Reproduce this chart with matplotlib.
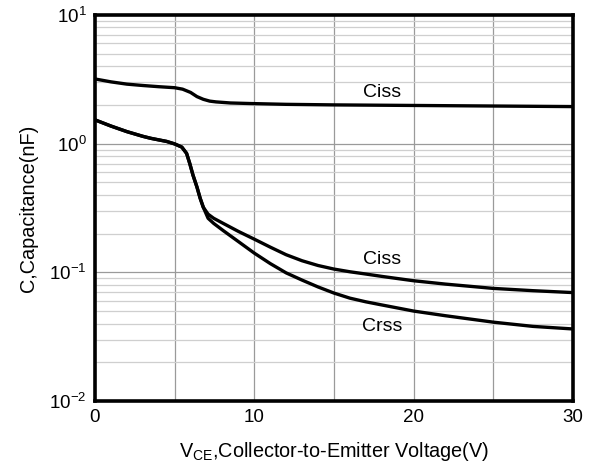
import matplotlib
matplotlib.use('Agg')
import matplotlib.pyplot as plt
from matplotlib.ticker import LogLocator, FixedLocator, NullFormatter

plt.rcParams['font.family'] = ['Liberation Sans', 'DejaVu Sans']
plt.rcParams['mathtext.fontset'] = 'custom'
plt.rcParams['mathtext.rm'] = 'Liberation Sans'
plt.rcParams['mathtext.it'] = 'Liberation Sans'

# Capacitance vs. collector-emitter voltage (nF)
vce_top = [0, 0.5, 1, 2, 3, 4, 5, 5.5, 6.0, 6.4, 6.8, 7.2, 7.6, 8.5, 9.7, 12, 15, 20, 25, 30]
ciss_top = [3.18, 3.1, 3.02, 2.9, 2.83, 2.77, 2.72, 2.65, 2.50, 2.32, 2.21, 2.14, 2.11,
            2.07, 2.05, 2.02, 2.0, 1.98, 1.96, 1.94]

vce_mid = [0, 1, 2, 3, 3.5, 4.5, 5.0, 5.45, 5.75, 5.95, 6.15, 6.4, 6.6, 6.8, 7.1, 7.45,
           8.05, 9, 10, 11, 12, 13, 14, 15, 16, 17, 18, 20, 22, 25, 27.5, 30]
ciss_mid = [1.53, 1.37, 1.24, 1.14, 1.10, 1.04, 0.995, 0.94, 0.84, 0.70, 0.57, 0.46, 0.377,
            0.32, 0.283, 0.263, 0.24, 0.208, 0.181, 0.157, 0.137, 0.123, 0.113, 0.106,
            0.101, 0.097, 0.093, 0.086, 0.081, 0.075, 0.072, 0.0696]

vce_low = [0, 1, 2, 3, 3.5, 4.5, 5.0, 5.45, 5.75, 5.95, 6.15, 6.4, 6.6, 6.8, 7.1, 7.45,
           8.05, 8.9, 10, 11, 12, 13, 14, 15, 16, 17, 18, 20, 22, 25, 27.5, 30]
crss = [1.53, 1.37, 1.24, 1.14, 1.10, 1.04, 0.995, 0.94, 0.84, 0.70, 0.57, 0.46, 0.377,
        0.32, 0.263, 0.24, 0.211, 0.177, 0.141, 0.117, 0.099, 0.087, 0.077, 0.069,
        0.063, 0.059, 0.0558, 0.050, 0.046, 0.041, 0.038, 0.0363]

labels = ['Ciss', 'Ciss', 'Crss']
label_x = [18, 18, 18]
label_y = [2.48, 0.125, 0.038]

fig = plt.figure(figsize=(5.9, 4.67), dpi=100)
ax = fig.add_axes([0.161, 0.1413, 0.810, 0.8267])

for x, y in [(vce_top, ciss_top), (vce_mid, ciss_mid), (vce_low, crss)]:
    ax.plot(x, y, color='black', lw=2.4, solid_joinstyle='round',
            solid_capstyle='round', zorder=3)

for t, x, y in zip(labels, label_x, label_y):
    ax.text(x, y, t, fontsize=14, ha='center', va='center')

ax.set_yscale('log')
ax.set_xlim(0, 30)
ax.set_ylim(1e-2, 1e1)

ax.xaxis.set_major_locator(FixedLocator([0, 10, 20, 30]))
ax.xaxis.set_minor_locator(FixedLocator([5, 15, 25]))
ax.yaxis.set_major_locator(LogLocator(base=10, numticks=10))
ax.yaxis.set_minor_locator(LogLocator(base=10, subs=range(2, 10), numticks=20))
ax.yaxis.set_minor_formatter(NullFormatter())

ax.grid(True, axis='x', which='both', color='#9a9a9a', lw=0.9)
ax.grid(True, axis='y', which='major', color='#9a9a9a', lw=0.9)
ax.grid(True, axis='y', which='minor', color='#cfcfcf', lw=0.9)
ax.set_axisbelow(True)

ax.tick_params(which='both', length=0, labelsize=13.5, pad=6)
for s in ax.spines.values():
    s.set_linewidth(2.6)

ax.set_xlabel(r'V$_{\mathregular{CE}}$,Collector-to-Emitter Voltage(V)', fontsize=14.3, labelpad=10)
ax.set_ylabel('C,Capacitance(nF)', fontsize=14.3, labelpad=8)

fig.savefig('out.png', dpi=100)
